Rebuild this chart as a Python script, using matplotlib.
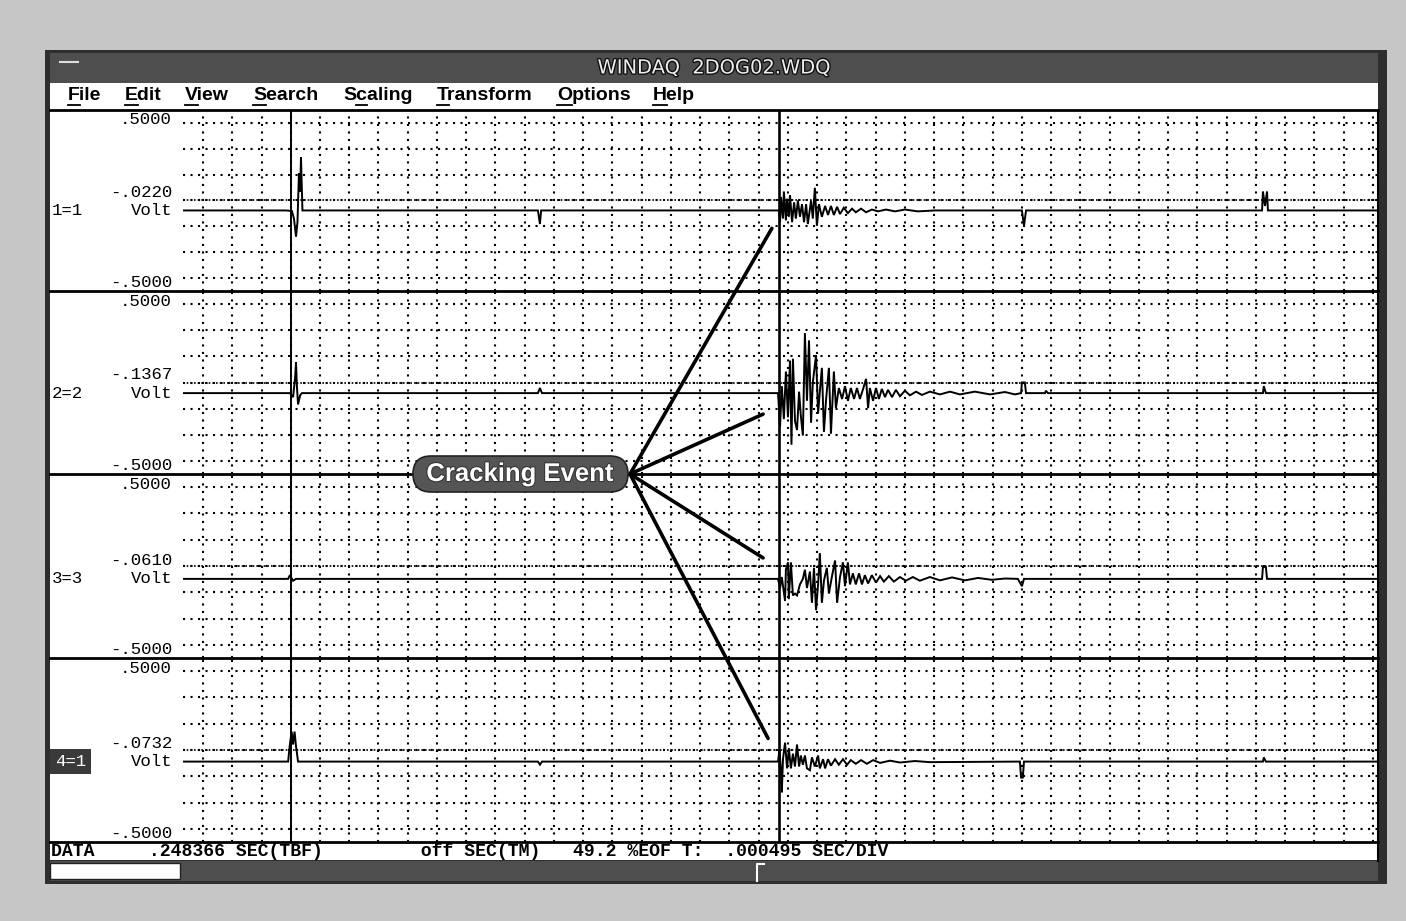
import matplotlib.pyplot as plt
import matplotlib.transforms as mtransforms
import matplotlib.patheffects as pe
from matplotlib.patches import Rectangle, ConnectionPatch, FancyBboxPatch
import numpy as np

# ---- data (x in divisions of .000495 s, y in volts) ----
ch1_t = [-0.68, 2.84, 3.04, 3.11, 3.18, 3.23, 3.28, 3.32, 3.35, 3.40, 11.45, 11.52, 11.56,
         19.69, 19.73, 19.76, 19.83, 19.86, 19.93, 19.97, 20.03, 20.07, 20.14, 20.21, 20.27,
         20.34, 20.41, 20.48, 20.55, 20.62, 20.68, 20.79, 20.85, 20.92, 20.99, 21.06, 21.16,
         21.27, 21.37, 21.47, 21.57, 21.68, 21.78, 21.91, 22.05, 22.19, 22.32, 22.50, 22.67,
         22.87, 23.08, 23.35, 23.66, 24.00, 24.44, 25.03, 28.00, 28.07, 28.14,
         36.21, 36.24, 36.31, 36.38, 36.41, 40.14]
ch1_v = [-0.055, -0.055, -0.058, -0.10, -0.20, -0.12, 0.15, 0.05, 0.24, -0.055, -0.055, -0.13, -0.055,
         -0.055, -0.12, 0.02, -0.10, 0.05, -0.11, 0.01, -0.09, 0.03, -0.12, -0.01, -0.10,
         0.00, -0.09, -0.02, -0.12, -0.02, -0.13, 0.00, -0.10, 0.07, -0.14, -0.02, -0.09,
         -0.03, -0.08, -0.03, -0.08, -0.035, -0.075, -0.04, -0.07, -0.045, -0.065, -0.045, -0.065,
         -0.05, -0.06, -0.05, -0.06, -0.05, -0.06, -0.055, -0.055, -0.14, -0.055,
         -0.055, 0.05, -0.03, 0.05, -0.055, -0.055]

ch2_t = [-0.68, 2.97, 3.08, 3.15, 3.18, 3.21, 3.25, 3.32, 3.38, 11.45, 11.52, 11.59,
         19.66, 19.73, 19.79, 19.86, 19.93, 20.00, 20.07, 20.12, 20.17, 20.24, 20.31, 20.38,
         20.44, 20.51, 20.58, 20.65, 20.72, 20.79, 20.85, 20.96, 21.03, 21.09, 21.16, 21.23,
         21.30, 21.40, 21.47, 21.57, 21.64, 21.74, 21.85, 21.95, 22.05, 22.15, 22.26, 22.36,
         22.46, 22.56, 22.67, 22.74, 22.80, 22.91, 23.01, 23.11, 23.21, 23.32, 23.42, 23.56,
         23.69, 23.83, 24.00, 24.17, 24.38, 24.58, 24.85, 25.20, 25.54, 25.88, 26.39, 26.91,
         27.42, 27.76, 27.97, 28.00, 28.10, 28.14, 28.79, 28.82, 28.89,
         36.24, 36.27, 36.34, 40.14]
ch2_v = [-0.058, -0.058, -0.08, 0.03, 0.11, -0.02, -0.12, -0.07, -0.058, -0.058, -0.03, -0.058,
         -0.058, -0.24, -0.02, -0.20, 0.06, -0.19, 0.12, -0.34, 0.13, -0.21, -0.26, -0.05,
         -0.18, -0.29, 0.27, -0.10, 0.23, -0.22, 0.00, 0.15, -0.17, -0.05, 0.08, -0.27,
         -0.10, 0.08, -0.28, 0.06, -0.14, -0.03, -0.09, -0.02, -0.10, -0.03, -0.09, -0.03,
         -0.09, -0.04, 0.02, -0.14, -0.03, -0.10, -0.03, -0.09, -0.035, -0.08, -0.04, -0.08,
         -0.04, -0.075, -0.045, -0.07, -0.05, -0.068, -0.05, -0.065, -0.05, -0.065, -0.05, -0.065,
         -0.052, -0.065, -0.058, 0.00, 0.00, -0.058, -0.058, -0.045, -0.058,
         -0.058, -0.02, -0.058, -0.058]

ch3_t = [-0.68, 2.91, 2.97, 3.08, 3.18,
         19.66, 19.73, 19.79, 19.90, 19.93, 20.00, 20.03, 20.10, 20.17, 20.24, 20.31, 20.41,
         20.51, 20.58, 20.65, 20.75, 20.82, 20.89, 20.96, 21.03, 21.09, 21.16, 21.23, 21.33,
         21.40, 21.50, 21.61, 21.68, 21.78, 21.88, 21.95, 22.05, 22.12, 22.22, 22.32, 22.43,
         22.53, 22.63, 22.74, 22.87, 23.01, 23.15, 23.28, 23.45, 23.62, 23.83, 24.03, 24.27,
         24.51, 24.85, 25.20, 25.61, 26.05, 26.50, 26.97, 27.42, 27.86, 28.00, 28.07,
         36.21, 36.24, 36.34, 36.38, 40.14]
ch3_v = [-0.07, -0.07, -0.05, -0.08, -0.07,
         -0.07, -0.12, -0.06, -0.19, -0.02, 0.02, -0.18, 0.02, -0.16, -0.15, -0.16, -0.10,
         -0.07, -0.02, -0.12, -0.03, -0.20, -0.01, -0.24, -0.10, 0.07, -0.20, -0.08, -0.01,
         -0.15, -0.06, 0.03, -0.20, -0.06, 0.02, -0.11, 0.02, -0.10, -0.04, -0.10, -0.04,
         -0.10, -0.05, -0.095, -0.05, -0.09, -0.055, -0.085, -0.055, -0.085, -0.06, -0.08, -0.06,
         -0.08, -0.06, -0.078, -0.062, -0.078, -0.065, -0.075, -0.068, -0.07, -0.11, -0.07,
         -0.07, -0.005, -0.005, -0.07, -0.07]

ch4_t = [-0.68, 2.91, 2.97, 3.03, 3.08, 3.13, 3.18, 3.25, 11.45, 11.52, 11.59,
         19.66, 19.71, 19.76, 19.79, 19.83, 19.90, 19.97, 20.03, 20.10, 20.17, 20.24, 20.31,
         20.38, 20.44, 20.51, 20.58, 20.65, 20.75, 20.82, 20.92, 21.03, 21.09, 21.20, 21.27,
         21.37, 21.47, 21.61, 21.74, 21.88, 22.02, 22.15, 22.32, 22.50, 22.70, 22.91, 23.15,
         23.49, 23.83, 24.34, 24.85, 27.93, 27.97, 28.03, 28.07,
         36.24, 36.27, 36.34, 40.14]
ch4_v = [-0.063, -0.063, 0.03, 0.10, 0.03, 0.10, 0.02, -0.063, -0.063, -0.08, -0.063,
         -0.063, 0.00, -0.11, -0.23, -0.05, 0.04, -0.10, 0.01, -0.10, -0.02, -0.09, 0.03,
         -0.09, -0.03, -0.08, -0.03, -0.10, -0.11, -0.04, -0.09, -0.03, -0.10, -0.05, -0.10,
         -0.05, -0.085, -0.05, -0.08, -0.05, -0.08, -0.055, -0.075, -0.055, -0.075, -0.055, -0.07,
         -0.058, -0.068, -0.06, -0.066, -0.063, -0.15, -0.15, -0.063,
         -0.063, -0.04, -0.063, -0.063]

traces = [(ch1_t, ch1_v), (ch2_t, ch2_v), (ch3_t, ch3_v), (ch4_t, ch4_v)]
ch_names = ["1=1", "2=2", "3=3", "4=1"]
cursor_vals = ["-.0220", "-.1367", "-.0610", "-.0732"]
trigger_div = 3
cursor_div = 19.69
n_div = 40

menu_items = ["File", "Edit", "View", "Search", "Scaling", "Transform", "Options", "Help"]
menu_ul = [0, 0, 0, 0, 1, 0, 0, 0]
menu_x = [68, 125, 185, 253, 343, 437, 557, 653]

status_line = "DATA     .248366 SEC(TBF)         off SEC(TM)   49.2 %EOF T:  .000495 SEC/DIV"

# annotation targets (div, volts) per channel
crack_targets = [(19.45, -0.154), (19.15, -0.173), (19.15, 0.044), (19.32, 0.063)]

# ---- layout ----
W, H = 1406, 921
fig = plt.figure(figsize=(W / 100, H / 100), dpi=100)
fig.patch.set_facecolor('#c6c6c6')
bg = fig.add_axes([0, 0, 1, 1])
bg.set_xlim(0, W)
bg.set_ylim(H, 0)
bg.axis('off')

MONO = ['Liberation Mono', 'DejaVu Sans Mono']
SANS = ['Liberation Sans', 'DejaVu Sans']
DARK = '#4e4e4e'

# window frame
bg.add_patch(Rectangle((45, 50), 1342, 834, fc='#2e2e2e', ec='none'))
bg.add_patch(Rectangle((50, 53), 1328, 30, fc=DARK, ec='none'))
bg.add_patch(Rectangle((50, 83), 1328, 27, fc='white', ec='none'))
bg.add_patch(Rectangle((50, 110), 1328, 750, fc='white', ec='none'))
bg.add_patch(Rectangle((50, 861), 1328, 20, fc=DARK, ec='none'))
bg.add_patch(Rectangle((50, 863), 130, 16, fc='white', ec='#222', lw=1))
bg.plot([757, 757, 764], [881, 864, 864], color='white', lw=1.5)
bg.plot([50, 1378], [110, 110], color='black', lw=2)
bg.plot([50, 1378], [842, 842], color='black', lw=2)
bg.plot([60, 78], [62, 62], color='#dddddd', lw=1.5)
bg.text(714, 68, "WINDAQ  2DOG02.WDQ", color='#eeeeee', fontsize=14, ha='center', va='center',
        family=['DejaVu Sans'],
        path_effects=[pe.withStroke(linewidth=2, foreground='#111111')])

MENU_FS = 14
menu_texts = []
for name, x in zip(menu_items, menu_x):
    t = bg.text(x, 96, name, fontsize=MENU_FS, fontweight='bold', family=SANS, ha='left', va='center')
    menu_texts.append(t)

bg.text(51, 851, status_line, fontsize=13.1, family=MONO, fontweight='bold', ha='left', va='center')

strips = [(110, 291), (291, 474), (474, 658), (658, 842)]
x_lo = -0.684
x_hi = 40.14
px0, px1 = 183, 1377

axes = []
for i, ((top, bot), (t, v)) in enumerate(zip(strips, traces)):
    ax = fig.add_axes([px0 / W, 1 - bot / H, (px1 - px0) / W, (bot - top) / H])
    ax.set_xlim(x_lo, x_hi)
    ax.set_ylim(-0.5, 0.5)
    ax.patch.set_alpha(0)
    for s in ax.spines.values():
        s.set_visible(False)
    ax.set_xticks(np.arange(0, n_div + 1))
    ax.set_yticks([k / 7 for k in range(-3, 4)])
    ax.tick_params(length=0, labelbottom=False, labelleft=False)
    ax.grid(True, color='black', lw=1.5, ls=(0, (1, 2.6)))
    ax.axhline(0, color='black', lw=1.2, ls=(0, (1, 1.2)))
    ax.axvline(trigger_div, color='black', lw=1.4)
    ax.axvline(cursor_div, color='black', lw=1.9)
    ax.plot(t, v, color='black', lw=1.4, solid_joinstyle='miter')
    axes.append(ax)

    # separator across label area + plot
    if i < 3:
        bg.plot([50, 1378], [bot, bot], color='black', lw=2)

    tr = mtransforms.blended_transform_factory(bg.transData, ax.transData)
    base = v[0]
    lab = dict(family=MONO, fontsize=12.5, ha='right', va='center', transform=tr)
    ax.text(172, 0.445, ".5000", clip_on=False, **lab)
    ax.text(172, -0.455, "-.5000", clip_on=False, **lab)
    ax.text(172, base + 0.1, cursor_vals[i], clip_on=False, **lab)
    ax.text(172, base, "Volt", clip_on=False, **lab)
    if i == 3:
        ax.text(55, base, ch_names[i], family=MONO, fontsize=12.5, ha='left', va='center',
                transform=tr, color='white', clip_on=False,
                bbox=dict(boxstyle='square,pad=0.3', fc='#3a3a3a', ec='none'))
    else:
        ax.text(52, base, ch_names[i], family=MONO, fontsize=12.5, ha='left', va='center',
                transform=tr, clip_on=False)

# right border of plot
bg.plot([1378, 1378], [110, 861], color='black', lw=1.5)

# cracking event callout
ax3 = axes[2]
tip = (14.6, 0.5)
for ax, tgt in zip(axes, crack_targets):
    con = ConnectionPatch(xyA=tip, coordsA=ax3.transData, xyB=tgt, coordsB=ax.transData,
                          color='black', lw=2.6, zorder=5)
    fig.add_artist(con)
box = FancyBboxPatch((413, 456), 215, 36, boxstyle='round,pad=0,rounding_size=18',
                     transform=bg.transData, fc='#555555', ec='#222222', lw=1.2, zorder=9)
fig.add_artist(box)
lbl = fig.text(0, 0, "Cracking Event", fontsize=18.5, fontweight='bold', family=SANS,
               color='white', ha='center', va='center', zorder=10,
               transform=ax3.transData,
               path_effects=[pe.withStroke(linewidth=1.5, foreground='#333333')])
lbl.set_position((10.84, 0.5))

# underline menu accelerators
fig.canvas.draw()
r = fig.canvas.get_renderer()
inv = bg.transData.inverted()
for t, name, k in zip(menu_texts, menu_items, menu_ul):
    bb = t.get_window_extent(r)
    pre = bg.text(0, 0, name[:k], fontsize=MENU_FS, fontweight='bold', family=SANS)
    one = bg.text(0, 0, name[:k + 1], fontsize=MENU_FS, fontweight='bold', family=SANS)
    w0 = pre.get_window_extent(r).width if k > 0 else 0
    w1 = one.get_window_extent(r).width
    pre.remove()
    one.remove()
    xa, ya = inv.transform((bb.x0 + w0, bb.y0))
    xb, _ = inv.transform((bb.x0 + w1, bb.y0))
    bg.plot([xa, xb], [ya + 0.5, ya + 0.5], color='black', lw=1.3)

fig.savefig('out.png', dpi=100, facecolor=fig.get_facecolor())
